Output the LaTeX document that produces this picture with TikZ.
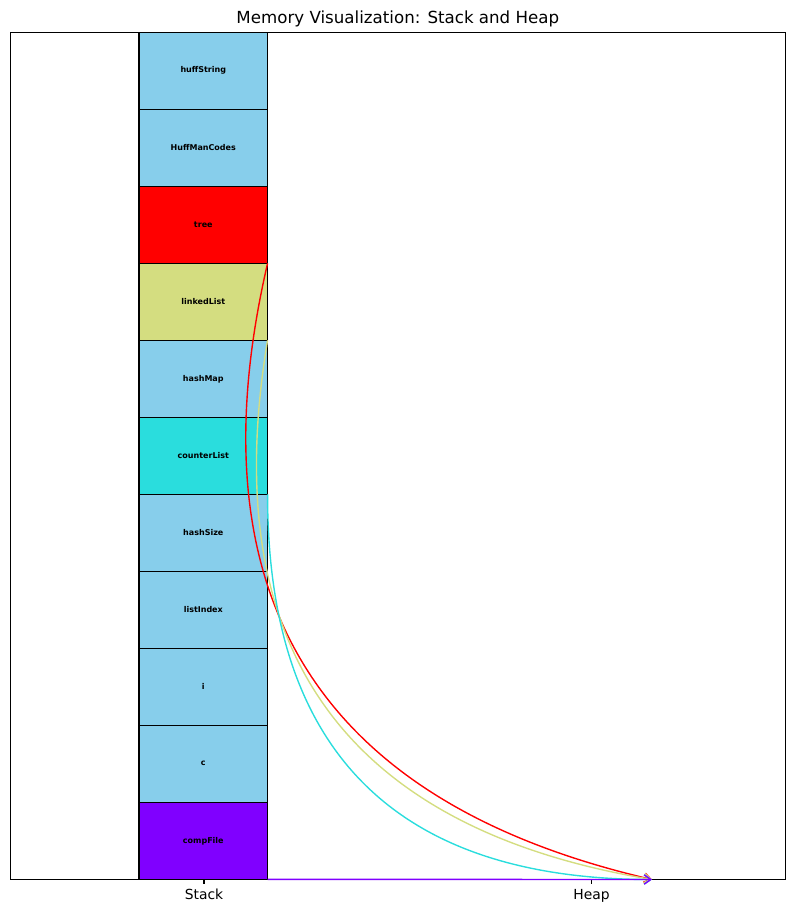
\documentclass[tikz,border=0pt]{standalone}
\usepackage{fontspec}
\setmainfont{DejaVu Sans}
\setsansfont{DejaVu Sans}
\usetikzlibrary{arrows.meta, positioning, calc}
\definecolor{cskyblue}{HTML}{87CEEB}
\definecolor{cred}{HTML}{FF0000}
\definecolor{cyellow}{HTML}{D4DD80}
\definecolor{ccyan}{HTML}{2ADDDD}
\definecolor{cpurple}{HTML}{8000FF}
\tikzset{
  every picture/.style={font=\sffamily, line width=0.83pt},
  cell/.style={draw=black, fill=#1, line width=1.04pt, minimum width=96.4pt, minimum height=57.75pt, inner sep=0pt, outer sep=0pt, anchor=north, font=\sffamily\bfseries\fontsize{6}{7}\selectfont},
  cell/.default=cskyblue,
  arrow/.style={-{Straight Barb[length=5pt, width=7pt]}, draw=#1, line width=1.04pt},
  title/.style={font=\sffamily\fontsize{12.5}{15}\selectfont, anchor=base, inner sep=0pt},
  ticklabel/.style={font=\sffamily\fontsize{10.4}{12}\selectfont, anchor=base, inner sep=0pt},
}

\begin{document}
\begin{tikzpicture}[x=0.75pt, y=-0.75pt]
  \useasboundingbox (0,0) rectangle (794,913);
  \node[title] (title) at (397.8, 24) {Memory Visualization: Stack and Heap};
  % stack cells, top to bottom
  \foreach \n/\c [count=\i from 0] in {huffString/cskyblue, HuffManCodes/cskyblue, tree/cred, linkedList/cyellow, hashMap/cskyblue, counterList/ccyan, hashSize/cskyblue, listIndex/cskyblue, i/cskyblue, c/cskyblue, compFile/cpurple}
    \node[cell=\c] (\n) at (203.3, {32.3+77*\i}) {\n};
  % axes frame and ticks
  \draw (10.3,32.3) rectangle (785.3,879.5);
  \draw (204,879.5) -- (204,884.4);
  \draw (591.5,879.5) -- (591.5,884.4);
  \node[ticklabel] (stacklbl) at (204, 899) {Stack};
  \node[ticklabel] (heaplbl) at (591.5, 899) {Heap};
  \coordinate (heap) at (652, 879.5);
  % pointers into the heap
  \foreach \n/\c in {tree/cred, linkedList/cyellow, counterList/ccyan} {
    \path ($(\n.south east)!0.5!(heap)!1!-90:(heap)$) coordinate (bend\n);
    \draw[arrow=\c] (\n.south east) .. controls ($(\n.south east)!2/3!(bend\n)$) and ($(heap)!2/3!(bend\n)$) .. (heap);
  }
  \draw[arrow=cpurple] (compFile.south east) -- (heap);
\end{tikzpicture}
\end{document}
